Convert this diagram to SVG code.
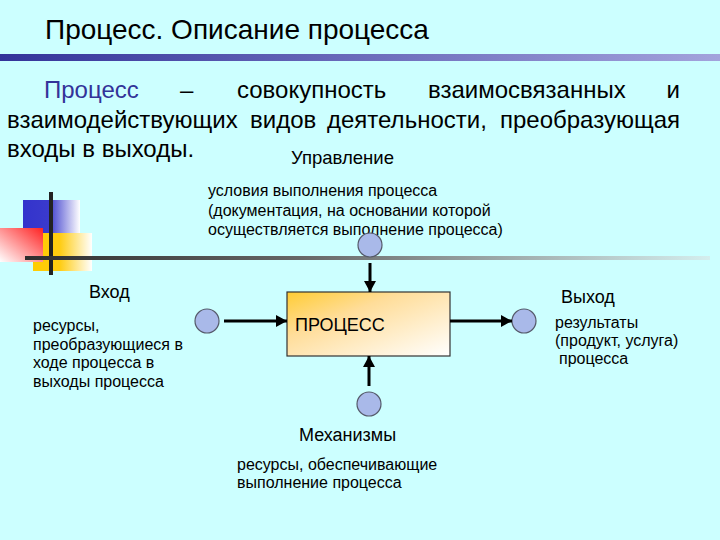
<svg xmlns="http://www.w3.org/2000/svg" width="720" height="540" viewBox="0 0 720 540">
<style>
text{font-family:"Liberation Sans",Arial,sans-serif;fill:#000}
.body{font-size:24px}
.lbl{font-size:18px}
.sm{font-size:16px}
.circ{fill:#a9b9e9;stroke:#555a6a;stroke-width:1.2}
.conn{stroke:#000;stroke-width:3;fill:none;marker-end:url(#ah)}
</style>
<defs>
<linearGradient id="gTitle" x1="0" y1="0" x2="1" y2="0"><stop offset="0" stop-color="#333399"/><stop offset="1" stop-color="#a3a3dc"/></linearGradient>
<linearGradient id="gLine" x1="0" y1="0" x2="1" y2="0"><stop offset="0" stop-color="#2e2e2e"/><stop offset="0.4" stop-color="#666"/><stop offset="1" stop-color="#d4eeee"/></linearGradient>
<linearGradient id="gBlue" x1="0" y1="0" x2="1" y2="0"><stop offset="0" stop-color="#3333cc"/><stop offset="0.45" stop-color="#3a3acc"/><stop offset="1" stop-color="#ffffff"/></linearGradient>
<linearGradient id="gYel" x1="0" y1="0" x2="1" y2="0"><stop offset="0" stop-color="#ffcc00"/><stop offset="0.45" stop-color="#ffcc11"/><stop offset="1" stop-color="#ffffff"/></linearGradient>
<linearGradient id="gRed" x1="1" y1="0" x2="0" y2="1"><stop offset="0" stop-color="#ff2222"/><stop offset="1" stop-color="#ffffff"/></linearGradient>
<linearGradient id="gBox" x1="0" y1="0" x2="1" y2="1"><stop offset="0" stop-color="#ffcc33"/><stop offset="0.35" stop-color="#ffdd99"/><stop offset="1" stop-color="#ffffff"/></linearGradient>
<marker id="ah" markerUnits="userSpaceOnUse" markerWidth="12" markerHeight="12" refX="11" refY="6" orient="auto"><path d="M0,0 L11,6 L0,12 Z" fill="#000"/></marker>
</defs>
<rect width="720" height="540" fill="#ccffff"/>
<text x="45" y="39" style="font-size:28px">Процесс. Описание процесса</text>
<rect x="0" y="54" width="720" height="7" fill="url(#gTitle)"/>
<g id="definition" class="body">
<text x="44" y="98" style="fill:#333399">Процесс</text>
<text x="180" y="98">–</text>
<text x="237" y="98">совокупность</text>
<text x="428" y="98">взаимосвязанных</text>
<text x="680" y="98" text-anchor="end">и</text>
<text x="7" y="128">взаимодействующих</text>
<text x="250" y="128">видов</text>
<text x="327" y="128">деятельности,</text>
<text x="680" y="128" text-anchor="end">преобразующая</text>
<text x="7" y="157">входы в выходы.</text>
</g>
<g id="decoration">
<rect x="23" y="200" width="57" height="52" fill="url(#gBlue)"/>
<rect x="33" y="233" width="59" height="38" fill="url(#gYel)"/>
<rect x="0" y="228" width="43" height="34" fill="url(#gRed)"/>
<rect x="49" y="192" width="4" height="83" fill="#222"/>
<rect x="25" y="256" width="685" height="4" fill="url(#gLine)"/>
</g>
<g id="control">
<text x="291" y="164" textLength="103" lengthAdjust="spacingAndGlyphs" style="font-size:19px">Управление</text>
<text x="208" y="196" class="sm">условия выполнения процесса</text>
<text x="208" y="216" class="sm">(документация, на основании которой</text>
<text x="208" y="235" class="sm">осуществляется выполнение процесса)</text>
<circle cx="370" cy="245" r="12" class="circ"/>
</g>
<g id="input">
<text x="89" y="298" class="lbl">Вход</text>
<text x="33" y="331" class="sm">ресурсы,</text>
<text x="33" y="350" class="sm">преобразующиеся в</text>
<text x="33" y="368" class="sm">ходе процесса в</text>
<text x="33" y="387" class="sm">выходы процесса</text>
<circle cx="207" cy="321" r="12" class="circ"/>
</g>
<g id="output">
<text x="561" y="303" class="lbl">Выход</text>
<text x="555" y="328" class="sm">результаты</text>
<text x="555" y="346" class="sm">(продукт, услуга)</text>
<text x="559" y="364" class="sm">процесса</text>
<circle cx="524" cy="321" r="12" class="circ"/>
</g>
<g id="mechanism">
<text x="299" y="441" class="lbl">Механизмы</text>
<text x="237" y="470" class="sm">ресурсы, обеспечивающие</text>
<text x="237" y="488" class="sm">выполнение процесса</text>
<circle cx="369" cy="404" r="12" class="circ"/>
</g>
<g id="process">
<rect x="287" y="292" width="163" height="64" fill="url(#gBox)" stroke="#333" stroke-width="1.2"/>
<text x="295" y="331" class="lbl">ПРОЦЕСС</text>
</g>
<g id="connectors">
<line x1="224" y1="321" x2="287" y2="321" class="conn"/>
<line x1="450" y1="321" x2="512" y2="321" class="conn"/>
<line x1="370" y1="263" x2="370" y2="292" class="conn"/>
<line x1="369" y1="386" x2="369" y2="356" class="conn"/>
</g>
</svg>
